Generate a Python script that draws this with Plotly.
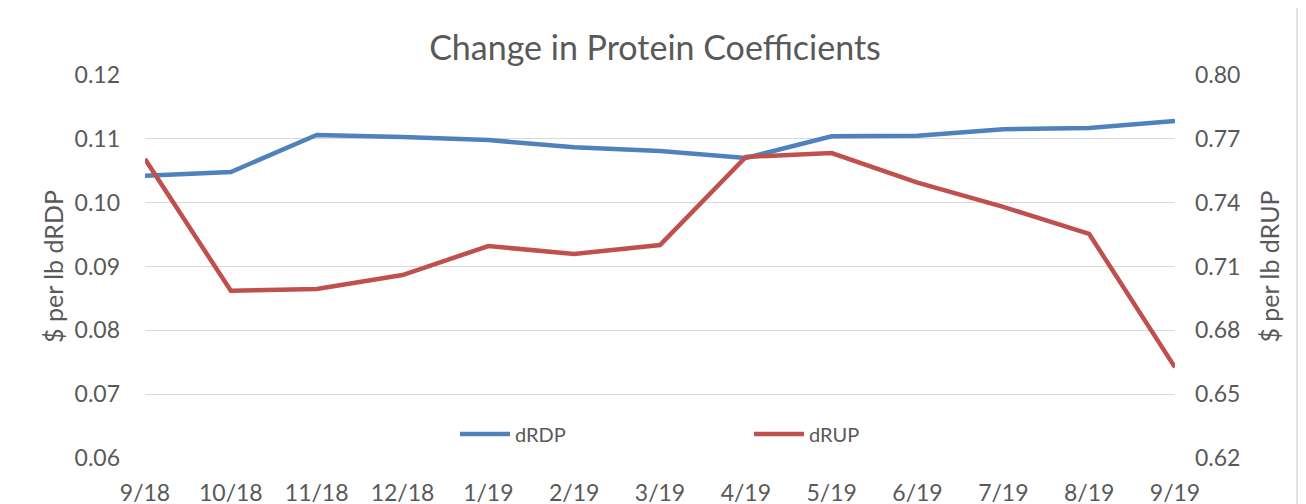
import plotly.graph_objects as go

months = ["9/18", "10/18", "11/18", "12/18", "1/19", "2/19", "3/19",
          "4/19", "5/19", "6/19", "7/19", "8/19", "9/19"]
drdp = [0.1042, 0.1048, 0.1106, 0.1103, 0.1098, 0.1087, 0.1081,
        0.1070, 0.1104, 0.1105, 0.1115, 0.1117, 0.1128]
drup = [0.7605, 0.6986, 0.6994, 0.7060, 0.7196, 0.7159, 0.7201,
        0.7615, 0.7633, 0.7494, 0.7380, 0.7253, 0.6626]
left_ticks = [0.06, 0.07, 0.08, 0.09, 0.10, 0.11, 0.12]
right_ticks = [0.62, 0.65, 0.68, 0.71, 0.74, 0.77, 0.80]

FONT = "Lato"
GREY = "#595959"
W, H = 1290, 504  # page has 8px body margin

fig = go.Figure()
fig.add_trace(go.Scatter(x=list(range(len(months))), y=drdp, name="dRDP",
                         mode="lines", line=dict(color="#4F81BD", width=4.5),
                         yaxis="y"))
fig.add_trace(go.Scatter(x=list(range(len(months))), y=drup, name="dRUP",
                         mode="lines", line=dict(color="#C0504D", width=4.5),
                         yaxis="y2"))

fig.update_layout(
    width=W, height=H,
    margin=dict(l=137, r=123, t=67, b=54, autoexpand=False),
    paper_bgcolor="white", plot_bgcolor="white",
    font=dict(family=FONT, color=GREY),
    title=dict(text="Change in Protein Coefficients", x=647 / W, xanchor="center",
               y=1 - 40 / H, yanchor="middle",
               font=dict(size=34, color=GREY, family=FONT)),
    xaxis=dict(range=[0, len(months) - 1], tickmode="array",
               tickvals=list(range(len(months))), ticktext=months,
               showgrid=False, zeroline=False, showline=False, automargin=False,
               tickfont=dict(size=23, color=GREY), ticklabelstandoff=19),
    yaxis=dict(range=[0.06, 0.12], tickvals=left_ticks,
               ticktext=[f"{v:.2f}" for v in left_ticks],
               showgrid=True, gridcolor="#d9d9d9", gridwidth=1.3,
               zeroline=False, showline=False, automargin=False,
               tickfont=dict(size=23, color=GREY), ticklabelstandoff=24,
               title=dict(text="$ per lb dRDP", font=dict(size=25, color=GREY),
                          standoff=3)),
    yaxis2=dict(range=[0.62, 0.80], tickvals=right_ticks,
                ticktext=[f"{v:.2f}" for v in right_ticks],
                overlaying="y", side="right", showgrid=False,
                zeroline=False, showline=False, automargin=False,
                tickfont=dict(size=23, color=GREY), ticklabelstandoff=19,
                title=dict(text="$ per lb dRUP", font=dict(size=25, color=GREY),
                           standoff=22)),
    legend=dict(orientation="h", x=(455 - 145) / 1030, xanchor="left",
                y=(458 - 434) / 383, yanchor="middle",
                bgcolor="rgba(0,0,0,0)", entrywidth=229, entrywidthmode="pixels",
                font=dict(size=20, color=GREY), itemwidth=50),
    showlegend=True,
)

fig.add_shape(type="rect", xref="paper", yref="paper",
              x0=-140 / 1030, x1=(1297 - 145) / 1030,
              y0=-60 / 383, y1=(458 - 6) / 383,
              line=dict(color="#d9d9d9", width=1.5), fillcolor="rgba(0,0,0,0)",
              layer="below")

fig.write_html("out.html")
